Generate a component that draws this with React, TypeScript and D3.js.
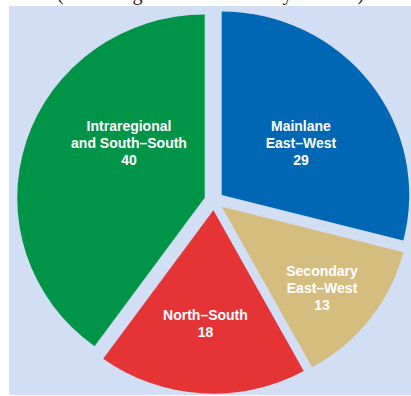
import React from "react";
import * as d3 from "d3";

const categories = ["Mainlane East–West", "Secondary East–West", "North–South", "Intraregional and South–South"];
const labelLines = [["Mainlane", "East–West"], ["Secondary", "East–West"], ["North–South"], ["Intraregional", "and South–South"]];
const values = [29, 13, 18, 40];
const colors = ["#0067B4", "#D5BD7F", "#E43435", "#009448"];
const subtitle = "(Percentage of trade flows by volume)";

// layout (not data)
const W = 411, H = 396;
const cx = 214, cy = 200.8, R = 187.5, ky = 0.978, explode = 9.76;
const labelPolar: [number, number][] = [[56.7, 94.8], [129.1, 129.3], [184, 113.8], [306, 93.6]];
const lineGap = 16.8;

export default function App() {
  const pie = d3.pie<number>().sort(null).value((d) => d).startAngle(0).endAngle(2 * Math.PI);
  const arcs = pie(values);
  const arc = d3.arc<d3.PieArcDatum<number>>().innerRadius(0).outerRadius(R);
  return (
    <svg width={W} height={H} style={{ position: "absolute", left: 0, top: 0 }}>
      <rect x={0} y={0} width={W} height={H} fill="#fff" />
      <text x={57} y={0} fontFamily="Liberation Serif, serif" fontSize={20} fill="#222">{subtitle}</text>
      <rect x={9} y={6} width={402} height={389} fill="#D2DEF3" />
      <g transform={`translate(${cx},${cy}) scale(1,${ky})`}>
        {arcs.map((a, i) => {
          const mid = (a.startAngle + a.endAngle) / 2;
          const ox = Math.sin(mid) * explode;
          const oy = -Math.cos(mid) * explode;
          return (
            <path key={categories[i]} d={arc(a) || ""} fill={colors[i]} transform={`translate(${ox},${oy})`} />
          );
        })}
      </g>
      {arcs.map((a, i) => {
        const mid = (a.startAngle + a.endAngle) / 2;
        const sx = cx + Math.sin(mid) * explode;
        const sy = cy - Math.cos(mid) * explode * ky;
        const [angDeg, r] = labelPolar[i];
        const ang = (angDeg * Math.PI) / 180;
        const lx = sx + Math.sin(ang) * r;
        const ly = sy - Math.cos(ang) * r;
        const lines = [...labelLines[i], String(values[i])];
        const n = lines.length;
        return (
          <text key={"l" + i} x={lx} y={ly} textAnchor="middle" fill="#fff" fontFamily="Liberation Sans, Arial, sans-serif" fontWeight={700} fontSize={14}>
            {lines.map((t, j) => (
              <tspan key={j} x={lx} y={ly + (j - (n - 1) / 2) * lineGap} dominantBaseline="central">{t}</tspan>
            ))}
          </text>
        );
      })}
    </svg>
  );
}
